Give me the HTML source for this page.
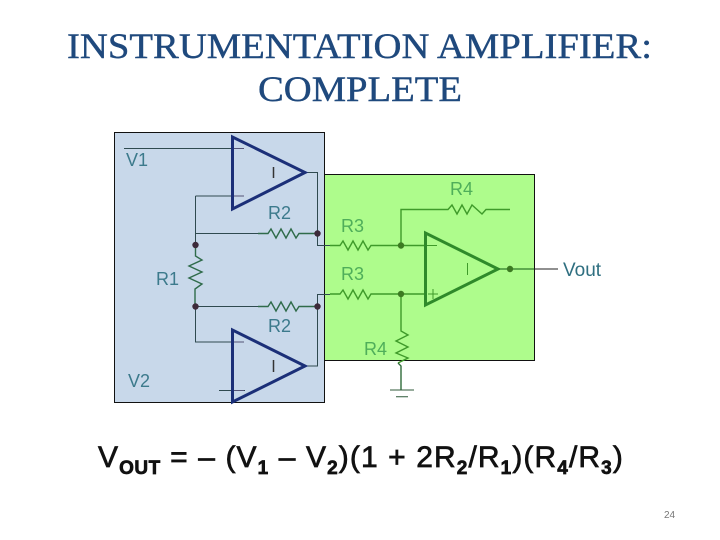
<!DOCTYPE html>
<html><head><meta charset="utf-8"><style>
html,body{margin:0;padding:0;background:#fff;width:720px;height:540px;overflow:hidden}
svg{display:block}
.t{font-family:"Liberation Serif",serif;font-size:36px;fill:#1f497d;stroke:#1f497d;stroke-width:.4}
.f{font-family:"Liberation Sans",sans-serif;font-size:30px;fill:#111;stroke:#111;stroke-width:.7}
.s{font-size:19px;font-weight:bold}
.l{font-family:"Liberation Sans",sans-serif;font-size:18px}
</style></head><body>
<svg width="720" height="540" viewBox="0 0 720 540" xmlns="http://www.w3.org/2000/svg">
<text class="t" x="67" y="58" textLength="585" lengthAdjust="spacingAndGlyphs">INSTRUMENTATION AMPLIFIER:</text>
<text class="t" x="258" y="101" textLength="204" lengthAdjust="spacingAndGlyphs">COMPLETE</text>

<rect x="114.5" y="132.5" width="210" height="270" fill="#c8d8ea" stroke="#111" stroke-width="1"/>
<rect x="324.5" y="174.5" width="210" height="186" fill="#aefc8c" stroke="#111" stroke-width="1"/>

<g fill="none" stroke="#2f4a50" stroke-width="1">
<path d="M124 148.5H232M195.5 196H232M195.5 196V245M195.5 233.5H258M305 172.5H317.5V245.5H330M317.5 233.5H310"/>
<path d="M195.5 306.5H258M195.5 306.5V342H232M219 390.5H245M305 366H317.5V294.5H330M317.5 306.5H310"/>
</g>
<g fill="none" stroke="#2f6b4a" stroke-width="1.4">
<path d="M258 233.5H268L271 229L276 238L281 229L286 238L291 229L296 238L299 233.5H317"/>
<path d="M258 306.5H268L271 302L276 311L281 302L286 311L291 302L296 311L299 306.5H317"/>
<path d="M195.5 245V256L202 260L189 266L202 272L189 278L202 284L195 289V306"/>
</g>
<path d="M232.5 137V209L305 172.5Z" fill="none" stroke="#1b2f78" stroke-width="3"/>
<path d="M232.5 330V402L305 366Z" fill="none" stroke="#1b2f78" stroke-width="3"/>
<path d="M273.5 167V178M273.5 360V372" stroke="#333" stroke-width="1.5"/>
<path d="M234 148.5H244M234 196H244M234 342H244M234 390.5H244" stroke="#557" stroke-width="1"/>
<g fill="#3d2a3a">
<circle cx="195.5" cy="245" r="3.2"/><circle cx="195.5" cy="306.5" r="3.2"/>
<circle cx="317.5" cy="233.5" r="3.2"/><circle cx="317.5" cy="306.5" r="3.2"/>
</g>
<text class="l" x="126" y="166" fill="#3c7a8c">V1</text>
<text class="l" x="268" y="219" fill="#3c7a8c">R2</text>
<text class="l" x="156" y="285" fill="#3c7a8c">R1</text>
<text class="l" x="268" y="332" fill="#3c7a8c">R2</text>
<text class="l" x="128" y="387" fill="#3c7a8c">V2</text>

<g fill="none" stroke="#3f9a2a" stroke-width="1.4">
<path d="M330 245.5H340L343 241L348 250L353 241L358 250L363 241L368 250L371 245.5H425"/>
<path d="M330 294H340L343 290L348 299L353 290L358 299L363 290L368 299L371 294H425"/>
<path d="M401 245.5V209.5H448L452 205L457 214L462 205L467 214L472 205L482 214L486 209.5H510"/>
<path d="M401 294V331L408 335L396 341L408 347L396 353L408 358L398 363"/>
</g>
<path d="M398 363L401 366V390" fill="none" stroke="#2f6b3a" stroke-width="1.4"/>
<path d="M390 390H414M396 396.7H408" stroke="#2f5a3a" stroke-width="1"/>
<path d="M425.5 233V305L498 269Z" fill="none" stroke="#2f8a2a" stroke-width="3"/>
<path d="M467.5 263V275" stroke="#3f9a2a" stroke-width="1"/>
<path d="M427 245.5H437M428 294H438M433 289V299" stroke="#3f9a2a" stroke-width="1"/>
<path d="M498 269H534" stroke="#2f7a2a" stroke-width="1.2"/>
<path d="M534.5 269H558" stroke="#222" stroke-width="1"/>
<g fill="#3c7a22">
<circle cx="401" cy="245.5" r="3.2"/><circle cx="401" cy="294" r="3.2"/><circle cx="510" cy="269" r="3.2"/>
</g>
<text class="l" x="341" y="232" fill="#4fae5a">R3</text>
<text class="l" x="341" y="280" fill="#4fae5a">R3</text>
<text class="l" x="450" y="195" fill="#4fae5a">R4</text>
<text class="l" x="364" y="355" fill="#4fae5a">R4</text>
<text class="l" x="563" y="276" fill="#2f6f80" style="font-size:19px">Vout</text>

<text class="f" x="98" y="467" letter-spacing="1.1">V<tspan class="s" dy="7" letter-spacing="0.5">OUT</tspan><tspan dy="-7"> = – (V</tspan><tspan class="s" dy="7">1</tspan><tspan dy="-7"> – V</tspan><tspan class="s" dy="7">2</tspan><tspan dy="-7">)(1 + 2R</tspan><tspan class="s" dy="7">2</tspan><tspan dy="-7">/R</tspan><tspan class="s" dy="7">1</tspan><tspan dy="-7">)(R</tspan><tspan class="s" dy="7">4</tspan><tspan dy="-7">/R</tspan><tspan class="s" dy="7">3</tspan><tspan dy="-7">)</tspan></text>
<text x="664" y="518" font-family="Liberation Sans, sans-serif" font-size="10" fill="#777">24</text>
</svg>
</body></html>
